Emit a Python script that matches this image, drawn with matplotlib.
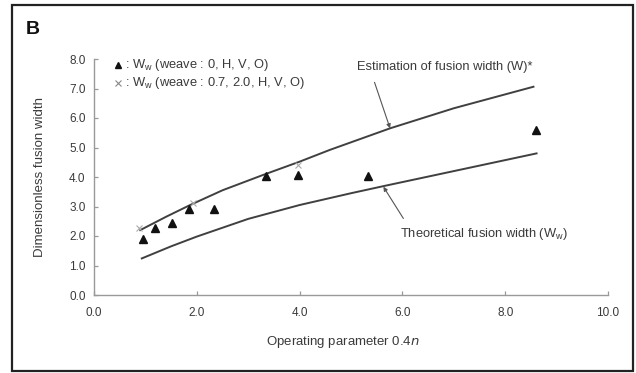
import matplotlib
matplotlib.use("Agg")
import matplotlib.pyplot as plt
from matplotlib.patches import Rectangle

plt.rcParams['font.family'] = ['Liberation Sans', 'DejaVu Sans']

# Measured points (triangles): W_w, weave 0, H, V, O
tri_x = [0.96, 1.19, 1.52, 1.85, 2.34, 3.34, 3.97, 5.34, 8.60]
tri_y = [1.89, 2.26, 2.43, 2.93, 2.90, 4.03, 4.07, 4.03, 5.59]

# Measured points (crosses): weave 0.7, 2.0, H, V, O
crs_x = [0.88, 1.93, 3.97]
crs_y = [2.26, 3.13, 4.40]

# Estimation of fusion width curve
est_x = [0.90, 1.40, 1.87, 2.50, 3.29, 4.00, 4.59, 5.76, 7.00, 8.55]
est_y = [2.20, 2.65, 3.05, 3.55, 4.07, 4.52, 4.92, 5.65, 6.33, 7.06]

# Theoretical fusion width curve
theo_x = [0.93, 1.50, 2.00, 3.00, 4.00, 5.00, 5.63, 7.00, 8.61]
theo_y = [1.24, 1.65, 1.98, 2.58, 3.05, 3.45, 3.69, 4.20, 4.80]

xticks = [0.0, 2.0, 4.0, 6.0, 8.0, 10.0]
yticks = [0.0, 1.0, 2.0, 3.0, 4.0, 5.0, 6.0, 7.0, 8.0]

TXT = '#3a3a3a'

fig = plt.figure(figsize=(6.36, 3.73), dpi=100)
fig.patch.set_facecolor('white')

# outer frame
fig.patches.append(Rectangle((12/636, 1-371/373), (633-12)/636, (371-5)/373,
                             transform=fig.transFigure, fill=False,
                             edgecolor='#222222', linewidth=1.6))
fig.text(33/636, 1-29/373, 'B', fontsize=14, fontweight='bold',
         ha='center', va='center', color='#111111')

ax = fig.add_axes([94/636, 1-295/373, (608-94)/636, (295-59)/373])
ax.set_xlim(0, 10)
ax.set_ylim(0, 8)
for s in ['top', 'right']:
    ax.spines[s].set_visible(False)
for s in ['left', 'bottom']:
    ax.spines[s].set_color('#999999')
    ax.spines[s].set_linewidth(1.0)

ax.set_xticks(xticks)
ax.set_yticks(yticks)
ax.set_xticklabels([f'{v:.1f}' for v in xticks])
ax.set_yticklabels([f'{v:.1f}' for v in yticks])
ax.tick_params(direction='in', length=3, width=0.9, color='#999999',
               labelsize=8.5, labelcolor=TXT)
ax.tick_params(axis='x', pad=9)
ax.tick_params(axis='y', pad=6)

ax.plot(est_x, est_y, color='#404040', lw=1.4)
ax.plot(theo_x, theo_y, color='#404040', lw=1.4)
ax.plot(crs_x, crs_y, linestyle='none', marker='x', color='#aaaaaa',
        markersize=4, markeredgewidth=0.8)
ax.plot(tri_x, tri_y, linestyle='none', marker='^', color='#111111',
        markersize=5.5)

# legend (manual)
ax.plot([0.47], [7.80], marker='^', color='#111111', markersize=4.5,
        linestyle='none', clip_on=False)
ax.text(0.60, 7.80, ': W$_{\\mathregular{w}}$ (weave : 0, H, V, O)', fontsize=9.3,
        va='center', ha='left', color=TXT)
ax.plot([0.47], [7.19], marker='x', color='#888888', markersize=4,
        markeredgewidth=0.8, linestyle='none', clip_on=False)
ax.text(0.60, 7.19, ': W$_{\\mathregular{w}}$ (weave : 0.7, 2.0, H, V, O)', fontsize=9.3,
        va='center', ha='left', color=TXT)

# annotations
ax.annotate('Estimation of fusion width (W)*', xy=(5.76, 5.65),
            xytext=(6.83, 7.73), fontsize=9.3, color=TXT,
            ha='center', va='center',
            arrowprops=dict(arrowstyle='-|>', color='#555555', lw=0.8,
                            mutation_scale=6, shrinkA=5, shrinkB=0,
                            relpos=(0.08, 0.0)))
ax.annotate('Theoretical fusion width (W$_{\\mathregular{w}}$)', xy=(5.63, 3.67),
            xytext=(7.58, 2.07), fontsize=9.3, color=TXT,
            ha='center', va='center',
            arrowprops=dict(arrowstyle='-|>', color='#555555', lw=0.8,
                            mutation_scale=6, shrinkA=4, shrinkB=0,
                            relpos=(0.05, 1.0)))

fig.text(343/636, 1-342/373, 'Operating parameter 0.4$\\it{n}$', fontsize=9.5,
         ha='center', va='center', color=TXT)
fig.text(40/636, 1-177/373, 'Dimensionless fusion width', fontsize=9.5,
         rotation=90, ha='center', va='center', color=TXT)

fig.savefig('out.png', dpi=100)
